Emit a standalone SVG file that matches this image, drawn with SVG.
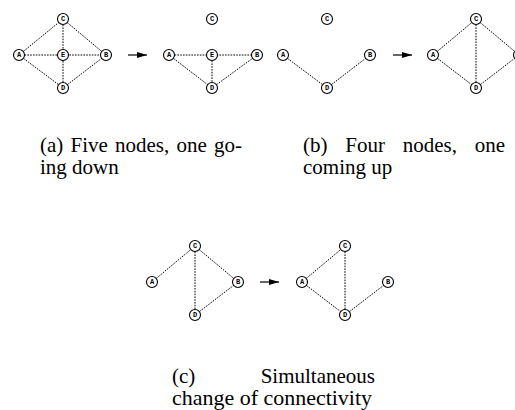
<svg xmlns="http://www.w3.org/2000/svg" width="515" height="410" viewBox="0 0 515 410">
  <style>
    .edge { stroke: #000; stroke-width: 1; stroke-dasharray: 1.6 1.2; fill: none; }
    .arrow { stroke: #000; stroke-width: 1.2; fill: none; }
    .node circle { fill: #fff; stroke: #000; stroke-width: 1.1; }
    .node text { font-family: "Liberation Mono", "DejaVu Sans Mono", monospace; font-weight: bold; font-size: 7px; text-anchor: middle; dominant-baseline: central; fill: #000; }
    .cap { font-family: "Liberation Serif", "Times New Roman", serif; font-size: 21px; fill: #000; }
  </style>
  <defs>
    <marker id="head" viewBox="0 0 10 6" refX="10" refY="3" markerWidth="10" markerHeight="6" markerUnits="userSpaceOnUse" orient="auto">
      <path d="M0,0 L10,3 L0,6 Z" fill="#000"/>
    </marker>
  </defs>

  <!-- connectors -->
  <g id="connectors">
    <!-- (a) before -->
    <line class="edge" x1="19" y1="55" x2="63" y2="19"/>
    <line class="edge" x1="63" y1="19" x2="106" y2="55"/>
    <line class="edge" x1="19" y1="55" x2="63" y2="88"/>
    <line class="edge" x1="63" y1="88" x2="106" y2="55"/>
    <line class="edge" x1="19" y1="55" x2="106" y2="55"/>
    <line class="edge" x1="63" y1="19" x2="63" y2="88"/>
    <line class="arrow" x1="128" y1="55" x2="147" y2="55" marker-end="url(#head)"/>
    <!-- (a) after -->
    <line class="edge" x1="169" y1="55" x2="257" y2="55"/>
    <line class="edge" x1="169" y1="55" x2="212" y2="88"/>
    <line class="edge" x1="212" y1="55" x2="212" y2="88"/>
    <line class="edge" x1="212" y1="88" x2="257" y2="55"/>
    <!-- (b) before -->
    <line class="edge" x1="283" y1="55" x2="327" y2="88"/>
    <line class="edge" x1="327" y1="88" x2="370" y2="55"/>
    <line class="arrow" x1="393" y1="55" x2="412" y2="55" marker-end="url(#head)"/>
    <!-- (b) after -->
    <line class="edge" x1="433" y1="55" x2="476" y2="19"/>
    <line class="edge" x1="476" y1="19" x2="519" y2="55"/>
    <line class="edge" x1="433" y1="55" x2="476" y2="88"/>
    <line class="edge" x1="476" y1="88" x2="519" y2="55"/>
    <line class="edge" x1="476" y1="19" x2="476" y2="88"/>
    <!-- (c) before -->
    <line class="edge" x1="152" y1="282" x2="195" y2="246"/>
    <line class="edge" x1="195" y1="246" x2="238" y2="282"/>
    <line class="edge" x1="195" y1="246" x2="195" y2="315"/>
    <line class="edge" x1="195" y1="315" x2="238" y2="282"/>
    <line class="arrow" x1="260" y1="282" x2="279" y2="282" marker-end="url(#head)"/>
    <!-- (c) after -->
    <line class="edge" x1="302" y1="282" x2="345" y2="246"/>
    <line class="edge" x1="345" y1="246" x2="345" y2="315"/>
    <line class="edge" x1="302" y1="282" x2="345" y2="315"/>
    <line class="edge" x1="345" y1="315" x2="388" y2="282"/>
  </g>

  <!-- (a) before -->
  <g id="a1-C" class="node"><circle cx="63" cy="19" r="5.5"/><text x="63" y="19">C</text></g>
  <g id="a1-A" class="node"><circle cx="19" cy="55" r="5.5"/><text x="19" y="55">A</text></g>
  <g id="a1-E" class="node"><circle cx="63" cy="55" r="5.5"/><text x="63" y="55">E</text></g>
  <g id="a1-B" class="node"><circle cx="106" cy="55" r="5.5"/><text x="106" y="55">B</text></g>
  <g id="a1-D" class="node"><circle cx="63" cy="88" r="5.5"/><text x="63" y="88">D</text></g>

  <!-- (a) after -->
  <g id="a2-C" class="node"><circle cx="212" cy="19" r="5.5"/><text x="212" y="19">C</text></g>
  <g id="a2-A" class="node"><circle cx="169" cy="55" r="5.5"/><text x="169" y="55">A</text></g>
  <g id="a2-E" class="node"><circle cx="212" cy="55" r="5.5"/><text x="212" y="55">E</text></g>
  <g id="a2-B" class="node"><circle cx="257" cy="55" r="5.5"/><text x="257" y="55">B</text></g>
  <g id="a2-D" class="node"><circle cx="212" cy="88" r="5.5"/><text x="212" y="88">D</text></g>

  <!-- (b) before -->
  <g id="b1-C" class="node"><circle cx="327" cy="19" r="5.5"/><text x="327" y="19">C</text></g>
  <g id="b1-A" class="node"><circle cx="283" cy="55" r="5.5"/><text x="283" y="55">A</text></g>
  <g id="b1-B" class="node"><circle cx="370" cy="55" r="5.5"/><text x="370" y="55">B</text></g>
  <g id="b1-D" class="node"><circle cx="327" cy="88" r="5.5"/><text x="327" y="88">D</text></g>

  <!-- (b) after; B sits just past the right edge -->
  <g id="b2-C" class="node"><circle cx="476" cy="19" r="5.5"/><text x="476" y="19">C</text></g>
  <g id="b2-A" class="node"><circle cx="433" cy="55" r="5.5"/><text x="433" y="55">A</text></g>
  <g id="b2-B" class="node"><circle cx="519" cy="55" r="5.5"/></g>
  <g id="b2-D" class="node"><circle cx="476" cy="88" r="5.5"/><text x="476" y="88">D</text></g>

  <!-- (c) before -->
  <g id="c1-C" class="node"><circle cx="195" cy="246" r="5.5"/><text x="195" y="246">C</text></g>
  <g id="c1-A" class="node"><circle cx="152" cy="282" r="5.5"/><text x="152" y="282">A</text></g>
  <g id="c1-B" class="node"><circle cx="238" cy="282" r="5.5"/><text x="238" y="282">B</text></g>
  <g id="c1-D" class="node"><circle cx="195" cy="315" r="5.5"/><text x="195" y="315">D</text></g>

  <!-- (c) after -->
  <g id="c2-C" class="node"><circle cx="345" cy="246" r="5.5"/><text x="345" y="246">C</text></g>
  <g id="c2-A" class="node"><circle cx="302" cy="282" r="5.5"/><text x="302" y="282">A</text></g>
  <g id="c2-B" class="node"><circle cx="388" cy="282" r="5.5"/><text x="388" y="282">B</text></g>
  <g id="c2-D" class="node"><circle cx="345" cy="315" r="5.5"/><text x="345" y="315">D</text></g>

  <!-- captions (justified lines set word by word) -->
  <g id="captions">
    <text class="cap" y="152"><tspan x="40">(a)</tspan><tspan x="70.5">Five</tspan><tspan x="115">nodes,</tspan><tspan x="176.4">one</tspan><tspan x="242" text-anchor="end">go-</tspan></text>
    <text class="cap" x="40" y="174">ing down</text>
    <text class="cap" y="152"><tspan x="303">(b)</tspan><tspan x="345.3">Four</tspan><tspan x="402.8">nodes,</tspan><tspan x="505" text-anchor="end">one</tspan></text>
    <text class="cap" x="303" y="174">coming up</text>
    <text class="cap" y="383"><tspan x="172">(c)</tspan><tspan x="375" text-anchor="end">Simultaneous</tspan></text>
    <text class="cap" x="172" y="405" textLength="200" lengthAdjust="spacingAndGlyphs">change of connectivity</text>
  </g>
</svg>
